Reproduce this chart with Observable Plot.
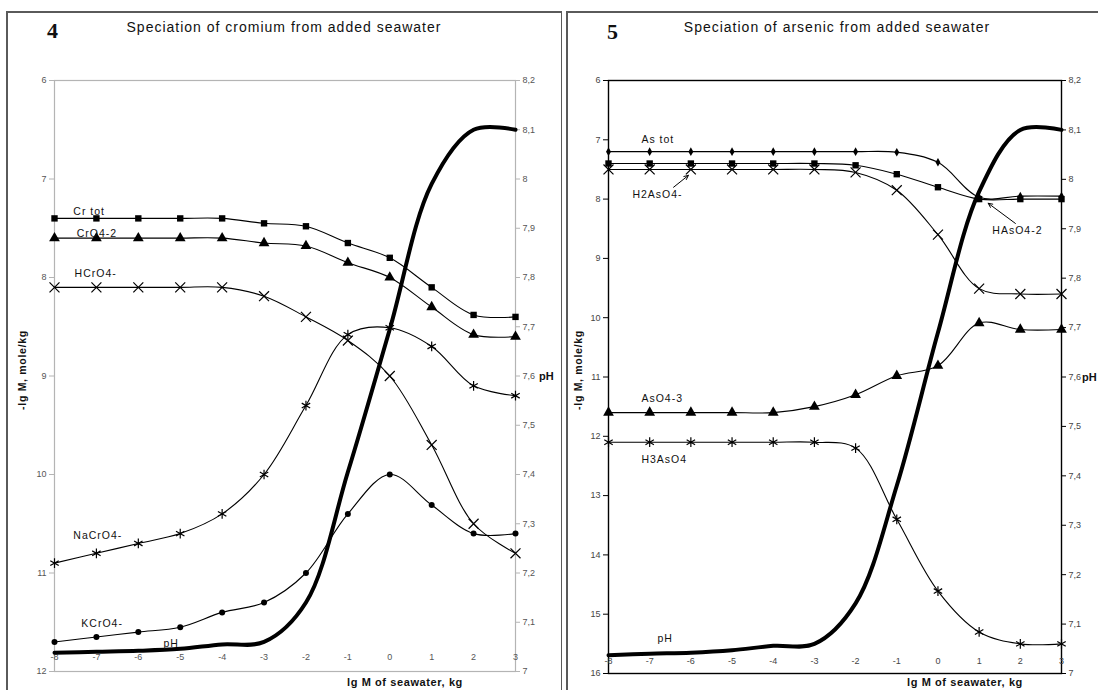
<!DOCTYPE html>
<html>
<head>
<meta charset="utf-8">
<script src="https://cdn.jsdelivr.net/npm/d3@7"></script>
<script src="https://cdn.jsdelivr.net/npm/@observablehq/plot@0.6"></script>
<style>
  body { margin: 0; background: #fff; }
  #root { position: relative; width: 1098px; height: 690px; overflow: hidden; background: #fff;
          font-family: "Liberation Sans", Arial, sans-serif; }
  .line { position: absolute; background: #5a5a5a; }
  .title { position: absolute; text-align: center; font-size: 14px; line-height: 14px; letter-spacing: 1px; color: #111; white-space: nowrap; }
  .num { position: absolute; font-family: "Liberation Serif", "Times New Roman", serif; font-weight: bold; font-size: 22px; line-height: 22px; color: #111; }
  .xt { position: absolute; font-weight: bold; font-size: 11px; line-height: 11px; letter-spacing: 0.6px; color: #111; white-space: nowrap; }
  .yt { position: absolute; width: 140px; height: 12px; text-align: center; font-weight: bold; font-size: 10.5px; line-height: 12px; letter-spacing: 0.7px; color: #111; transform: rotate(-90deg); transform-origin: 50% 50%; white-space: nowrap; }
  .ph { position: absolute; font-weight: bold; font-size: 11px; line-height: 12px; color: #111; }
  .pl { position: absolute; top: 0; }
  .pl svg g[aria-label="text"] text { letter-spacing: 1px; }
</style>
</head>
<body>
<div id="root">
  <div id="left" class="pl" style="left:0px"></div>
  <div id="right" class="pl" style="left:567px"></div>
  <!-- panel frames -->
  <div class="line" style="left:6px;top:11px;width:1.5px;height:690px"></div>
  <div class="line" style="left:6px;top:11px;width:556px;height:1.5px"></div>
  <div class="line" style="left:560.5px;top:11px;width:1.5px;height:690px"></div>
  <div class="line" style="left:566px;top:11px;width:1.5px;height:690px"></div>
  <div class="line" style="left:566px;top:11px;width:540px;height:1.5px"></div>

  <div class="num" style="left:47px;top:20px">4</div>
  <div class="title" style="left:7px;width:554px;top:20px">Speciation of cromium from added seawater</div>
  <div class="num" style="left:607px;top:21px">5</div>
  <div class="title" style="left:567px;width:540px;top:20px">Speciation of arsenic from added seawater</div>

  <div class="yt" style="left:-48px;top:364px">-lg M, mole/kg</div>
  <div class="yt" style="left:508px;top:364px">-lg M, mole/kg</div>
  <div class="ph" style="left:539px;top:370px">pH</div>
  <div class="ph" style="left:1082px;top:371px">pH</div>
  <div class="xt" style="left:347px;top:677px">lg M of seawater, kg</div>
  <div class="xt" style="left:907px;top:677px">lg M of seawater, kg</div>
</div>
<script>
// ---------- shared ----------
const xVals = [-8, -7, -6, -5, -4, -3, -2, -1, 0, 1, 2, 3];
const phTicks = [7, 7.1, 7.2, 7.3, 7.4, 7.5, 7.6, 7.7, 7.8, 7.9, 8, 8.1, 8.2];

// ---------- panel 4: chromium ----------
const yTicksCr = [6, 7, 8, 9, 10, 11, 12];
const crTot  = [7.40, 7.40, 7.40, 7.40, 7.40, 7.45, 7.48, 7.65, 7.80, 8.10, 8.38, 8.40];
const crO4   = [7.60, 7.60, 7.60, 7.60, 7.60, 7.65, 7.68, 7.85, 8.00, 8.30, 8.58, 8.60];
const hCrO4  = [8.10, 8.10, 8.10, 8.10, 8.10, 8.19, 8.40, 8.64, 9.00, 9.70, 10.50, 10.80];
const naCrO4 = [10.90, 10.80, 10.70, 10.60, 10.40, 10.00, 9.30, 8.58, 8.51, 8.70, 9.10, 9.20];
const kCrO4  = [11.70, 11.65, 11.60, 11.55, 11.40, 11.30, 11.00, 10.40, 10.00, 10.31, 10.60, 10.60];
const phCr   = [7.038, 7.040, 7.042, 7.046, 7.055, 7.060, 7.140, 7.405, 7.695, 7.99, 8.10, 8.10];
const crLabelText = ["Cr tot", "CrO4-2", "HCrO4-", "NaCrO4-", "KCrO4-", "pH"];
const crLabelX = [-7.55, -7.47, -7.52, -7.55, -7.36, -5.40];
const crLabelY = [7.33, 7.55, 7.96, 10.62, 11.51, 11.72];

// ---------- panel 5: arsenic ----------
const yTicksAs = [6, 7, 8, 9, 10, 11, 12, 13, 14, 15, 16];
const asTot   = [7.20, 7.20, 7.20, 7.20, 7.20, 7.20, 7.20, 7.21, 7.38, 7.97, 7.95, 7.95];
const hAsO4   = [7.40, 7.40, 7.40, 7.40, 7.40, 7.40, 7.43, 7.58, 7.80, 8.00, 8.00, 8.00];
const h2AsO4  = [7.50, 7.50, 7.50, 7.50, 7.50, 7.50, 7.55, 7.85, 8.60, 9.51, 9.60, 9.60];
const asO4    = [11.60, 11.60, 11.60, 11.60, 11.60, 11.50, 11.30, 10.98, 10.81, 10.09, 10.20, 10.20];
const h3AsO4  = [12.10, 12.10, 12.10, 12.10, 12.10, 12.10, 12.20, 13.40, 14.61, 15.30, 15.50, 15.50];
const phAs    = [7.037, 7.040, 7.042, 7.047, 7.056, 7.060, 7.142, 7.38, 7.69, 7.975, 8.10, 8.10];
const asLabelText = ["As tot", "H2AsO4-", "HAsO4-2", "AsO4-3", "H3AsO4", "pH"];
const asLabelX = [-7.20, -7.42, 1.32, -7.20, -7.20, -6.81];
const asLabelY = [7.00, 7.92, 8.53, 11.36, 12.39, 15.41];
const asArrowX1 = [-6.42, 1.88];
const asArrowY1 = [7.80, 8.41];
const asArrowX2 = [-6.06, 1.22];
const asArrowY2 = [7.60, 8.07];

// ---------- helpers ----------
const fmtPh = v => String(Math.round(v * 10) / 10).replace(".", ",");
const rows = vals => xVals.map((x, i) => ({x, y: vals[i]}));

const symStyle = {
  square:   {r: 3.6, fill: "#000"},
  triangle: {r: 4.0, fill: "#000"},
  circle:   {r: 3.0, fill: "#000"},
  diamond:  {r: 2.6, fill: "#000"},
  times:    {r: 4.6, fill: "none", stroke: "#000", strokeWidth: 1.2},
  asterisk: {r: 4.6, fill: "none", stroke: "#000", strokeWidth: 1.2}
};

function panel(cfg) {
  const {width, height, mL, mR, mT, mB, yDomain, yTicks, phMax, phMin, series, ph,
         labelText, labelX, labelY, axisColor, textColor, frameWidth, xPad, arrows} = cfg;
  const k = (yDomain[1] - yDomain[0]) / (phMax - phMin);
  const phToY = p => yDomain[0] + (phMax - p) * k;
  const yToPh = y => phMax - (y - yDomain[0]) / k;
  const marks = [
    Plot.frame({stroke: axisColor, strokeWidth: frameWidth}),
    Plot.axisY({anchor: "left", ticks: yTicks, tickSize: 5, tickPadding: 3, label: null,
                stroke: axisColor, fill: textColor, fontSize: 9, tickFormat: d => String(d)}),
    Plot.axisY(phTicks.map(phToY), {anchor: "right", tickSize: 4, tickPadding: 3, label: null,
                stroke: axisColor, fill: textColor, fontSize: 9, tickFormat: d => fmtPh(yToPh(d))}),
    Plot.axisX({anchor: "bottom", ticks: xVals, tickSize: 0, tickPadding: xPad, label: null,
                fill: textColor, fontSize: 9, tickFormat: d => String(d)})
  ];
  for (const s of series) {
    marks.push(Plot.line(rows(s.values), {x: "x", y: "y", curve: "catmull-rom", stroke: "#000", strokeWidth: 1.1}));
  }
  marks.push(Plot.line(rows(ph.map(phToY)), {x: "x", y: "y", curve: "catmull-rom", stroke: "#000", strokeWidth: 4, strokeLinejoin: "round"}));
  for (const s of series) {
    marks.push(Plot.dot(rows(s.values), {x: "x", y: "y", symbol: s.symbol, ...symStyle[s.symbol]}));
  }
  const labs = labelText.map((t, i) => ({t, x: labelX[i], y: labelY[i]}));
  marks.push(Plot.text(labs, {x: "x", y: "y", text: "t", textAnchor: "start", fontSize: 10.5, fill: "#111"}));
  if (arrows) {
    const arr = arrows.x1.map((v, i) => ({x1: v, y1: arrows.y1[i], x2: arrows.x2[i], y2: arrows.y2[i]}));
    marks.push(Plot.arrow(arr, {x1: "x1", y1: "y1", x2: "x2", y2: "y2", stroke: "#000", strokeWidth: 1, headLength: 7, headAngle: 50}));
  }
  return Plot.plot({
    width, height,
    marginLeft: mL, marginRight: mR, marginTop: mT, marginBottom: mB,
    x: {domain: [-8, 3], axis: null},
    y: {domain: yDomain, reverse: true, axis: null},
    style: {background: "transparent", fontFamily: "'Liberation Sans', Arial, sans-serif", overflow: "visible"},
    marks
  });
}

document.getElementById("left").appendChild(panel({
  width: 561, height: 690, mL: 54, mR: 46, mT: 80, mB: 19,
  yDomain: [6, 12], yTicks: yTicksCr, phMax: 8.2, phMin: 7,
  series: [
    {values: crTot, symbol: "square"},
    {values: crO4, symbol: "triangle"},
    {values: hCrO4, symbol: "times"},
    {values: naCrO4, symbol: "asterisk"},
    {values: kCrO4, symbol: "circle"}
  ],
  ph: phCr,
  labelText: crLabelText, labelX: crLabelX, labelY: crLabelY,
  axisColor: "#b4b4b4", textColor: "#555", frameWidth: 1.2, xPad: -18
}));

document.getElementById("right").appendChild(panel({
  width: 531, height: 690, mL: 41, mR: 37, mT: 80, mB: 17,
  yDomain: [6, 16], yTicks: yTicksAs, phMax: 8.2, phMin: 7,
  series: [
    {values: asTot, symbol: "diamond"},
    {values: hAsO4, symbol: "square"},
    {values: h2AsO4, symbol: "times"},
    {values: asO4, symbol: "triangle"},
    {values: h3AsO4, symbol: "asterisk"}
  ],
  ph: phAs,
  labelText: asLabelText, labelX: asLabelX, labelY: asLabelY,
  axisColor: "#000", textColor: "#444", frameWidth: 1.4, xPad: -16,
  arrows: {x1: asArrowX1, y1: asArrowY1, x2: asArrowX2, y2: asArrowY2}
}));
</script>
</body>
</html>
